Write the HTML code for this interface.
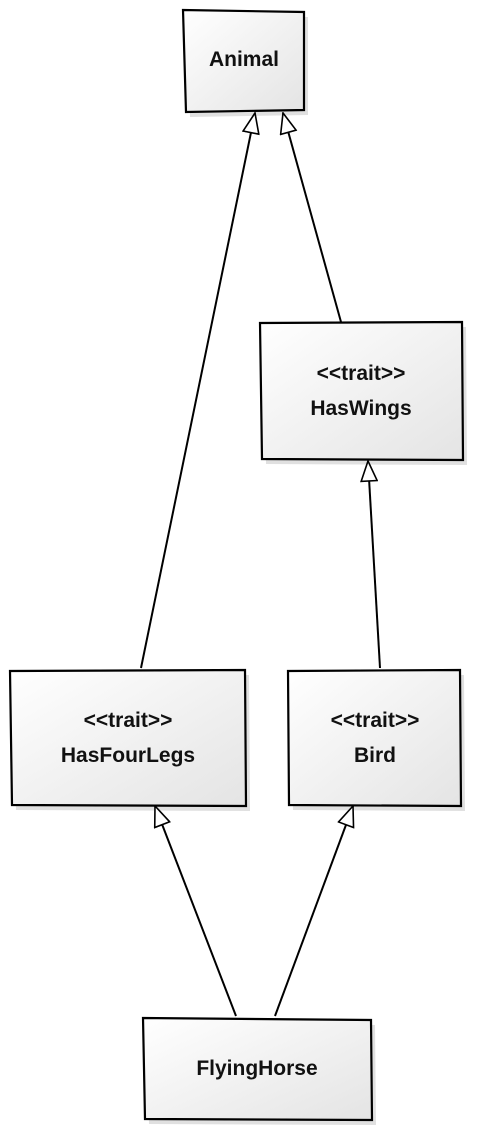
<!DOCTYPE html>
<html><head><style>body{margin:0;background:#fff}svg{display:block}</style></head><body>
<svg width="491" height="1131" viewBox="0 0 491 1131" xmlns="http://www.w3.org/2000/svg">
<defs>
<linearGradient id="g" x1="0" y1="0" x2="1" y2="1"><stop offset="0" stop-color="#ffffff"/><stop offset="1" stop-color="#e4e4e4"/></linearGradient>
<marker id="a" viewBox="0 0 22 18" refX="21" refY="9" markerWidth="22" markerHeight="18" markerUnits="userSpaceOnUse" orient="auto">
<path d="M1,1 L21,9 L1,17 Z" fill="#fff" stroke="#000" stroke-width="1.6"/></marker>
</defs>
<g fill="#ccc" opacity="0.6">
<path d="M187,15 L308,17 L308,115 L190,117 Z"/>
<path d="M264,328 L466,327 L467,465 L266,464 Z"/>
<path d="M14,676 L249,675 L250,811 L16,810 Z"/>
<path d="M292,676 L464,675 L465,811 L293,810 Z"/>
<path d="M147,1023 L375,1025 L376,1125 L149,1124 Z"/>
</g>
<g stroke="#000" stroke-width="2.2" fill="url(#g)">
<path d="M183,10 L304,12 L304,110 L186,112 Z"/>
<path d="M260,323 L462,322 L463,460 L262,459 Z"/>
<path d="M10,671 L245,670 L246,806 L12,805 Z"/>
<path d="M288,671 L460,670 L461,806 L289,805 Z"/>
<path d="M143,1018 L371,1020 L372,1120 L145,1119 Z"/>
</g>
<g stroke="#000" stroke-width="2" fill="none" marker-end="url(#a)">
<line x1="141" y1="668" x2="255" y2="113"/>
<line x1="341" y1="322" x2="283" y2="113"/>
<line x1="380" y1="668" x2="368" y2="461"/>
<line x1="236" y1="1016" x2="155" y2="806"/>
<line x1="275" y1="1016" x2="353" y2="806"/>
</g>
<g font-family="Liberation Sans, sans-serif" font-size="21" font-weight="bold" text-anchor="middle" fill="#111">
<text x="244" y="66">Animal</text>
<text x="361" y="380">&lt;&lt;trait&gt;&gt;</text>
<text x="361" y="415">HasWings</text>
<text x="128" y="727">&lt;&lt;trait&gt;&gt;</text>
<text x="128" y="762">HasFourLegs</text>
<text x="375" y="727">&lt;&lt;trait&gt;&gt;</text>
<text x="375" y="762">Bird</text>
<text x="257" y="1075">FlyingHorse</text>
</g>
</svg>
</body></html>
